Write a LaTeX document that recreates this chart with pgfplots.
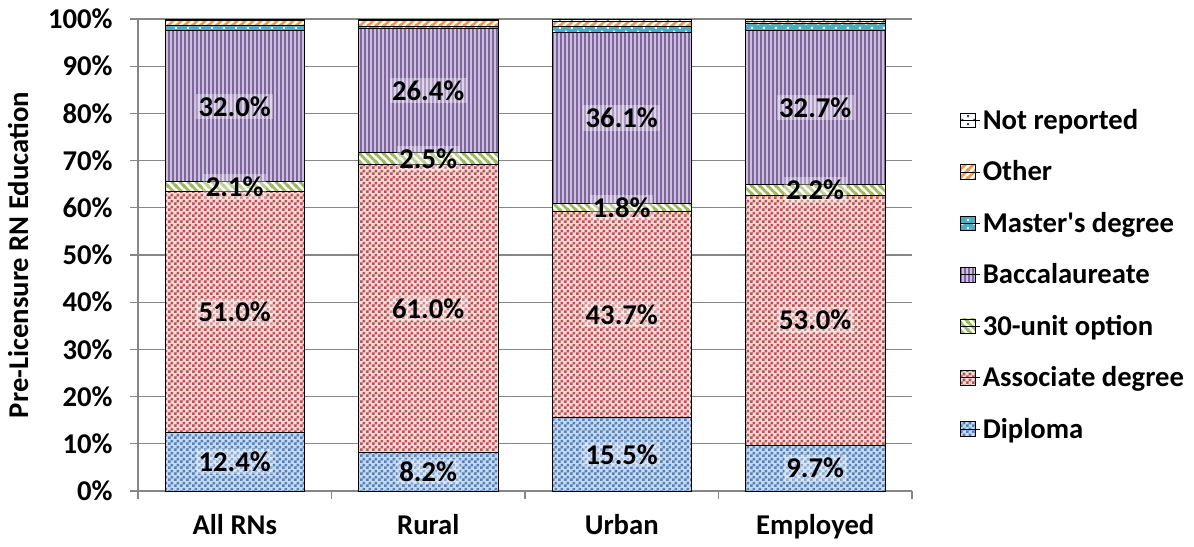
\documentclass[border=0pt]{standalone}
\usepackage{pgfplots}
\pgfplotsset{compat=1.18}
\usepackage{fontspec}
\setmainfont{Carlito}
\usetikzlibrary{patterns}

\definecolor{dipfill}{HTML}{C6D9F1}
\definecolor{dippat}{HTML}{4F81BD}
\definecolor{assfill}{HTML}{F2DCDB}
\definecolor{asspat}{HTML}{C0504D}
\definecolor{grnpat}{HTML}{9BBB59}
\definecolor{purfill}{HTML}{CCC1DA}
\definecolor{purpat}{HTML}{8064A2}
\definecolor{masfill}{HTML}{4BACC6}
\definecolor{othpat}{HTML}{F79646}
\definecolor{nrpat}{HTML}{1F497D}
\definecolor{axgray}{HTML}{868686}

\pgfdeclarepatternformonly{finecheck}{\pgfpointorigin}{\pgfqpoint{4.5pt}{4.5pt}}{\pgfqpoint{4.5pt}{4.5pt}}{%
  \pgfpathrectangle{\pgfpointorigin}{\pgfqpoint{2.25pt}{2.25pt}}%
  \pgfpathrectangle{\pgfqpoint{2.25pt}{2.25pt}}{\pgfqpoint{2.25pt}{2.25pt}}%
  \pgfusepath{fill}}
\pgfdeclarepatternformonly{vstripes}{\pgfqpoint{0pt}{-1pt}}{\pgfqpoint{3pt}{4pt}}{\pgfqpoint{3pt}{3pt}}{%
  \pgfpathrectangle{\pgfqpoint{0pt}{-1pt}}{\pgfqpoint{1.5pt}{5pt}}%
  \pgfusepath{fill}}
\pgfdeclarepatternformonly{nelines}{\pgfqpoint{-1pt}{-1pt}}{\pgfqpoint{7pt}{7pt}}{\pgfqpoint{6pt}{6pt}}{%
  \pgfsetlinewidth{1.9pt}%
  \pgfpathmoveto{\pgfqpoint{-1pt}{-1pt}}\pgfpathlineto{\pgfqpoint{7pt}{7pt}}%
  \pgfpathmoveto{\pgfqpoint{-1pt}{5pt}}\pgfpathlineto{\pgfqpoint{1pt}{7pt}}%
  \pgfpathmoveto{\pgfqpoint{5pt}{-1pt}}\pgfpathlineto{\pgfqpoint{7pt}{1pt}}%
  \pgfusepath{stroke}}
\pgfdeclarepatternformonly{nwlines}{\pgfqpoint{-1pt}{-1pt}}{\pgfqpoint{7pt}{7pt}}{\pgfqpoint{6pt}{6pt}}{%
  \pgfsetlinewidth{1.9pt}%
  \pgfpathmoveto{\pgfqpoint{-1pt}{7pt}}\pgfpathlineto{\pgfqpoint{7pt}{-1pt}}%
  \pgfpathmoveto{\pgfqpoint{-1pt}{1pt}}\pgfpathlineto{\pgfqpoint{1pt}{-1pt}}%
  \pgfpathmoveto{\pgfqpoint{5pt}{7pt}}\pgfpathlineto{\pgfqpoint{7pt}{5pt}}%
  \pgfusepath{stroke}}
\pgfdeclarepatternformonly{sparsedots}{\pgfpointorigin}{\pgfqpoint{9pt}{6pt}}{\pgfqpoint{9pt}{6pt}}{%
  \pgfpathrectangle{\pgfqpoint{1pt}{1pt}}{\pgfqpoint{1.6pt}{1.6pt}}%
  \pgfpathrectangle{\pgfqpoint{5.5pt}{4pt}}{\pgfqpoint{1.6pt}{1.6pt}}%
  \pgfusepath{fill}}

\newcommand{\fnt}{\fontsize{21.5}{25}\selectfont\bfseries}

\begin{document}
\begin{tikzpicture}
\begin{axis}[
  at={(0,0)}, anchor=south west,
  scale only axis,
  width=580.5pt, height=354pt,
  ybar stacked,
  bar width=0.72,
  xmin=-0.5, xmax=3.5,
  ymin=0, ymax=100,
  ytick={0,10,...,100},
  yticklabel={\pgfmathprintnumber{\tick}\%},
  /pgf/number format/assume math mode=true,
  xtick={-0.5,0.5,1.5,2.5,3.5},
  xticklabels={All RNs,Rural,Urban,Employed},
  x tick label as interval,
  axis x line*=bottom, axis y line*=left,
  axis line style={draw=axgray, line width=1pt, -},
  tick style={draw=axgray, line width=1pt},
  major tick length=6pt,
  tick align=outside,
  ymajorgrids,
  grid style={draw=axgray, line width=1pt},
  tick label style={font=\fnt},
  yticklabel style={xshift=-9.5pt},
  xticklabel style={yshift=-8pt},
  ylabel={Pre-Licensure RN Education},
  ylabel style={font=\fnt, at={(axis description cs:-0.155,0.5)}, anchor=center},
  legend style={draw=none, font=\fnt, at={(axis description cs:1.062,0.458)}, anchor=west,
    row sep=18pt, cells={anchor=west}, inner sep=0pt, outer sep=0pt},
  reverse legend,
  legend image code/.code={\draw[#1] (0pt,-5.5pt) rectangle (11.5pt,5.5pt);
    \path (0pt,0pt) -- (14.5pt,0pt);},
  visualization depends on={rawy \as \rawy},
  every node near coord/.append style={font=\fnt, anchor=center,
    fill=white, fill opacity=0.35, text opacity=1, inner sep=2pt},
]
\addplot[draw=black, line width=0.6pt, fill=dipfill, postaction={pattern=finecheck, pattern color=dippat},
  nodes near coords={\pgfmathprintnumber[fixed,fixed zerofill,precision=1]{\rawy}\%}]
  coordinates {(0,12.4) (1,8.2) (2,15.5) (3,9.7)};
\addlegendentry{Diploma}
\addplot[draw=black, line width=0.6pt, fill=assfill, postaction={pattern=finecheck, pattern color=asspat},
  nodes near coords={\pgfmathprintnumber[fixed,fixed zerofill,precision=1]{\rawy}\%}]
  coordinates {(0,51.0) (1,61.0) (2,43.7) (3,53.0)};
\addlegendentry{Associate degree}
\addplot[draw=black, line width=0.6pt, fill=white, postaction={pattern=nwlines, pattern color=grnpat},
  nodes near coords={\pgfmathprintnumber[fixed,fixed zerofill,precision=1]{\rawy}\%}]
  coordinates {(0,2.1) (1,2.5) (2,1.8) (3,2.2)};
\addlegendentry{30-unit option}
\addplot[draw=black, line width=0.6pt, fill=purfill, postaction={pattern=vstripes, pattern color=purpat},
  nodes near coords={\pgfmathprintnumber[fixed,fixed zerofill,precision=1]{\rawy}\%}]
  coordinates {(0,32.0) (1,26.4) (2,36.1) (3,32.7)};
\addlegendentry{Baccalaureate}
\addplot[draw=black, line width=0.6pt, fill=masfill, postaction={pattern=sparsedots, pattern color=white}]
  coordinates {(0,1.1) (1,0.4) (2,1.4) (3,1.4)};
\addlegendentry{Master\textquotesingle s degree}
\addplot[draw=black, line width=0.6pt, fill=white, postaction={pattern=nelines, pattern color=othpat}]
  coordinates {(0,1.0) (1,1.2) (2,0.9) (3,0.5)};
\addlegendentry{Other}
\addplot[draw=black, line width=0.6pt, fill=white, postaction={pattern=sparsedots, pattern color=nrpat}]
  coordinates {(0,0.4) (1,0.3) (2,0.6) (3,0.5)};
\addlegendentry{Not reported}
\end{axis}
\pgfresetboundingbox
\path[use as bounding box] (-103.5pt,-41.25pt) rectangle (792pt,368.25pt);
\end{tikzpicture}
\end{document}
